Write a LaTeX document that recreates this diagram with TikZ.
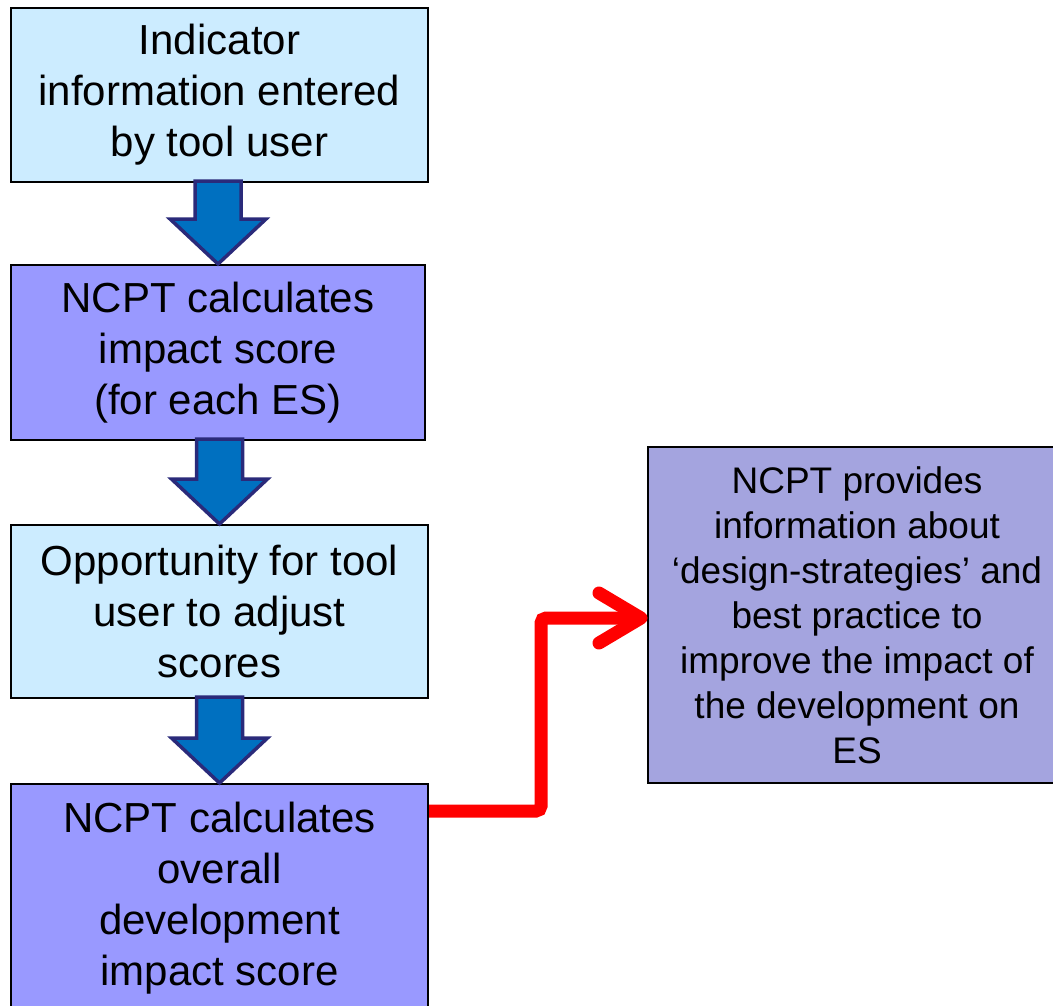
\documentclass[tikz,border=0pt]{standalone}
\usepackage{fontspec}
\setmainfont{Liberation Sans}
\usetikzlibrary{calc}
\definecolor{paleblue}{HTML}{CCECFF}
\definecolor{lavender}{HTML}{9999FF}
\definecolor{softlav}{HTML}{A4A4DF}
\definecolor{arrowblue}{HTML}{0070C0}
\definecolor{arrownavy}{RGB}{42,42,122}
\begin{document}
\begin{tikzpicture}[x=1pt,y=-1pt,
  box/.style={draw=black, line width=2pt, rectangle, align=center, inner sep=0pt,
              font=\fontsize{42}{51}\selectfont},
  blockarrow/.style={fill=arrowblue, draw=arrownavy, line width=3.5pt, line join=miter},
  flowline/.style={draw=red, line width=13pt, rounded corners=5pt},
  tiphead/.style={draw=red, line width=13pt, line cap=round, line join=round}]
\useasboundingbox (0,0) rectangle (1053,1005);
\clip (0,0) rectangle (1053,1005);

% process boxes
\node[box, fill=paleblue, minimum width=417pt, minimum height=174pt] (b1) at (219.5,95)
  {Indicator\\information entered\\by tool user};
\node[box, fill=lavender, minimum width=414pt, minimum height=175pt] (b2) at (218,352.5)
  {NCPT calculates\\impact score\\(for each ES)};
\node[box, fill=paleblue, minimum width=417pt, minimum height=173pt] (b3) at (219.5,611.5)
  {Opportunity for tool\\user to adjust\\scores};
\node[box, fill=lavender, minimum width=417pt, minimum height=228pt] (b4) at (219.5,898)
  {NCPT calculates\\overall\\development\\impact score};
\node[box, fill=softlav, minimum width=418pt, minimum height=336pt,
      font=\fontsize{37}{45}\selectfont] (b5) at (857,615)
  {NCPT provides\\information about\\‘design-strategies’ and\\best practice to\\improve the impact of\\the development on\\ES};

% block arrows between consecutive boxes
\newcommand\downblock[2]{%
  \draw[blockarrow]
    ($(#2.north |- #1.south)+(-23,-2)$) -- ($(#2.north)+(-23,-45)$) --
    ($(#2.north)+(-48,-45)$) -- (#2.north) -- ($(#2.north)+(48,-45)$) --
    ($(#2.north)+(23,-45)$) -- ($(#2.north |- #1.south)+(23,-2)$) -- cycle;}
\downblock{b1}{b2}
\downblock{b2}{b3}
\downblock{b3}{b4}

% red connector to the information box
\coordinate (start) at ($(b4.north east)+(0,28)$);
\coordinate (bend) at (541,700);
\coordinate (tip) at ($(b5.west)+(-6,3)$);
\draw[flowline] (start) -- (start -| bend) -- (bend |- tip) -- (tip);
\draw[tiphead] ($(tip)+(-42,-25)$) -- (tip) -- ($(tip)+(-42,25)$);
\end{tikzpicture}
\end{document}
